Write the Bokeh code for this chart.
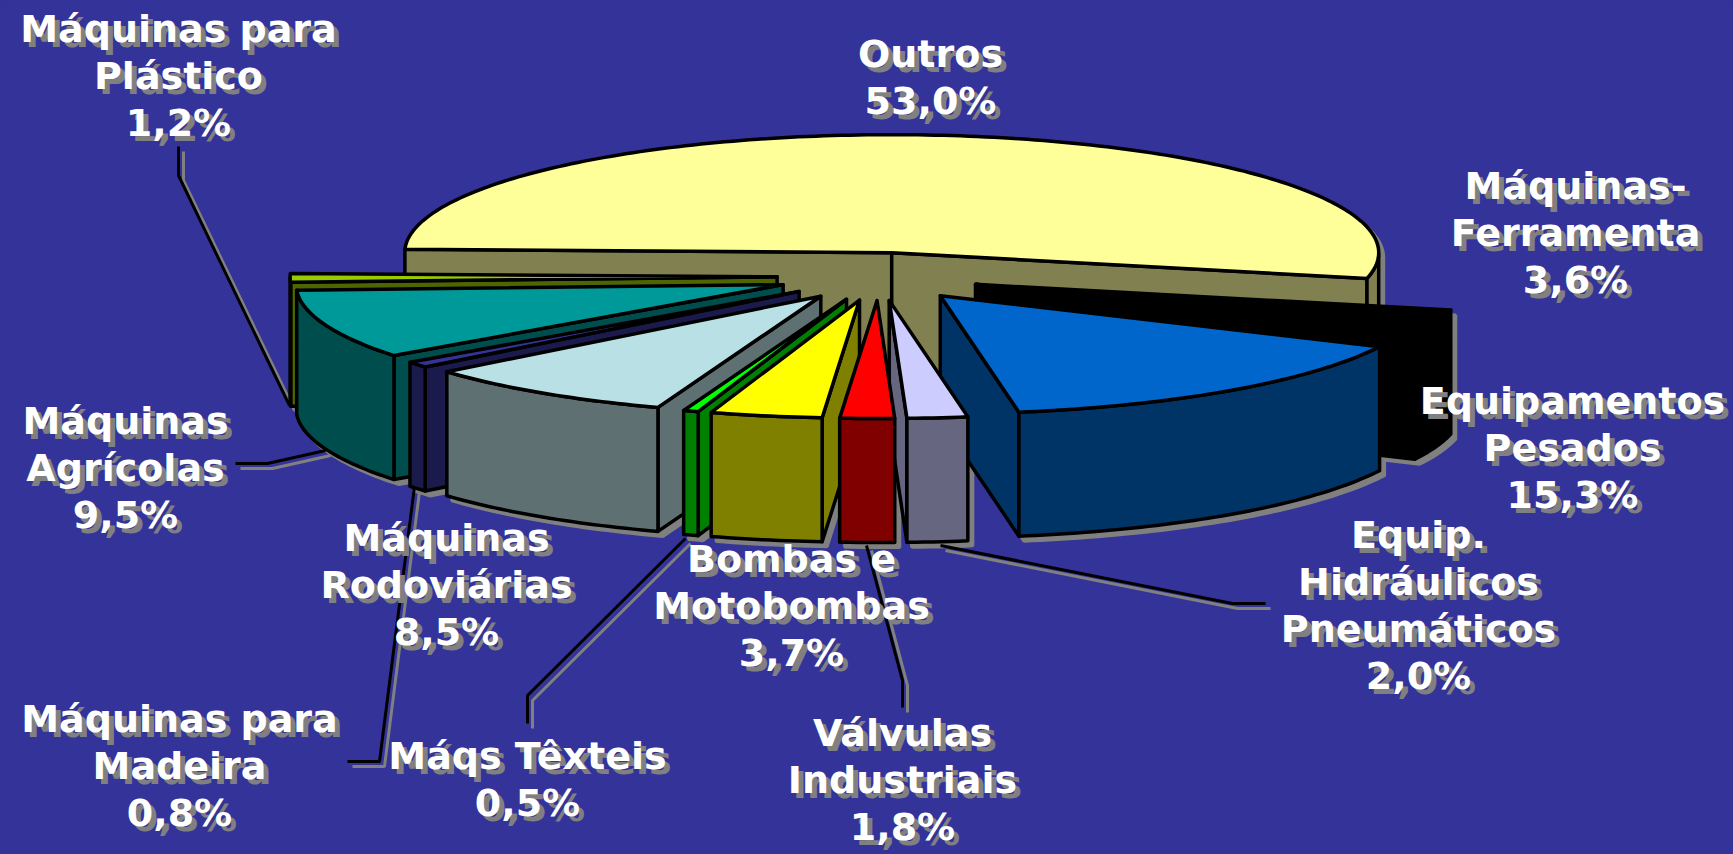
import numpy as np
from bokeh.plotting import figure
from bokeh.models import ColumnDataSource
from bokeh.core.properties import value
from bokeh.embed import file_html
from bokeh.resources import INLINE

# ---- data (clockwise from the start of the black slice)
names = ["Máquinas-Ferramenta", "Equipamentos Pesados", "Equip. Hidráulicos Pneumáticos",
         "Válvulas Industriais", "Bombas e Motobombas", "Máqs Têxteis", "Máquinas Rodoviárias",
         "Máquinas para Madeira", "Máquinas Agrícolas", "Máquinas para Plástico", "Outros"]
shares = [3.6, 15.3, 2.0, 1.8, 3.7, 0.5, 8.5, 0.8, 9.5, 1.2, 53.0]
top_colors = ["#000000", "#0066CC", "#CCCCFF", "#FF0000", "#FFFF00", "#00FF00", "#B9E0E4",
              "#333399", "#009999", "#99CC00", "#FFFF99"]
side_colors = ["#000000", "#003366", "#666680", "#800000", "#808000", "#008000", "#5F7072",
               "#1A1A4D", "#004D4D", "#4D6600", "#808050"]

label_lines = [["Máquinas-", "Ferramenta", "3,6%"],
               ["Equipamentos", "Pesados", "15,3%"],
               ["Equip.", "Hidráulicos", "Pneumáticos", "2,0%"],
               ["Válvulas", "Industriais", "1,8%"],
               ["Bombas e", "Motobombas", "3,7%"],
               ["Máqs Têxteis", "0,5%"],
               ["Máquinas", "Rodoviárias", "8,5%"],
               ["Máquinas para", "Madeira", "0,8%"],
               ["Máquinas", "Agrícolas", "9,5%"],
               ["Máquinas para", "Plástico", "1,2%"],
               ["Outros", "53,0%"]]

# ---- layout
label_x = [1575, 1572, 1418, 902, 791, 527, 446, 179, 125, 178, 930]
label_y = [185, 400, 534, 732, 558, 755, 537, 718, 420, 28, 53]
line_step = 47
leaders = [([178, 178, 289], [146, 175, 405]),
           ([235, 267, 325], [463, 463, 450]),
           ([347, 379, 414], [761, 761, 486]),
           ([527, 527, 685], [723, 695, 538]),
           ([902, 902, 866], [707, 680, 545]),
           ([1265, 1232, 940], [603, 603, 545])]
START = np.radians(12.6)
CX, CY, RX, RY, EX, EY, DEPTH = 878.6, 276.0, 487.0, 118.0, 102.0, 24.0, 124.0
SHADOW = 5
BG = "#333399"

fracs = np.array(shares) / sum(shares) * 2 * np.pi
ends = START + np.cumsum(fracs)
starts = ends - fracs
mids = (starts + ends) / 2

faces = []  # (xs, ys, fill)
for i in np.argsort(np.sin(mids)):
    a1, a2, m = starts[i], ends[i], mids[i]
    tx, ty = CX + EX * np.cos(m), CY + EY * np.sin(m)
    pt = lambda a: (tx + RX * np.cos(a), ty + RY * np.sin(a))
    side = side_colors[i]
    face = []
    for a, vis in ((a1, np.cos(a1) < 0), (a2, np.cos(a2) > 0)):
        if vis:
            x, y = pt(a)
            face.append(([tx, x, x, tx], [ty, y, y + DEPTH, ty + DEPTH], side))
    # outer wall: parts of the arc facing the viewer
    arc = np.linspace(a1, a2, max(3, int(np.degrees(a2 - a1)) + 1))
    front = arc[np.sin(arc) >= 0]
    if len(front) > 1:
        x, y = pt(front)
        face.append((list(x) + list(x[::-1]), list(y) + list((y + DEPTH)[::-1]), side))
    x, y = pt(arc)
    face.append(([tx] + list(x), [ty] + list(y), top_colors[i]))
    faces.extend(face)

p = figure(width=1733, height=854, x_range=(0, 1733), y_range=(854, 0),
           toolbar_location=None, output_backend="svg", min_border=0,
           background_fill_color=BG, border_fill_color=BG, outline_line_color=None)
p.axis.visible = False
p.grid.visible = False

# shadows first, then leader lines, then the pie
sx = [[v + SHADOW for v in f[0]] for f in faces]
sy = [[v + SHADOW for v in f[1]] for f in faces]
p.patches(sx, sy, fill_color="#808080", line_color="#808080", line_width=3)
for lx, ly in leaders:
    p.line([v + SHADOW for v in lx], [v + SHADOW for v in ly], line_color="#808080", line_width=3)
for lx, ly in leaders:
    p.line(lx, ly, line_color="#000000", line_width=3)
src = ColumnDataSource(dict(xs=[f[0] for f in faces], ys=[f[1] for f in faces], c=[f[2] for f in faces]))
p.patches("xs", "ys", source=src, fill_color="c", line_color="#000000", line_width=3.5, line_join="round")

# labels
tx_, ty_, tt_ = [], [], []
for lines, x0, y0 in zip(label_lines, label_x, label_y):
    for k, s in enumerate(lines):
        tx_.append(x0); ty_.append(y0 + k * line_step); tt_.append(s)
for off, col in ((SHADOW, "#808080"), (0, "#FFFFFF")):
    p.text([v + off for v in tx_], [v + off for v in ty_], text=tt_,
           text_font=value("DejaVu Sans"), text_font_style="bold", text_font_size="38px",
           text_align="center", text_baseline="middle", text_color=col)

html = file_html(p, INLINE)
html = html.replace("<head>", "<head><style>html,body{margin:0;padding:0;background:#333399;overflow:hidden}</style>", 1)
open("out.html", "w").write(html)
